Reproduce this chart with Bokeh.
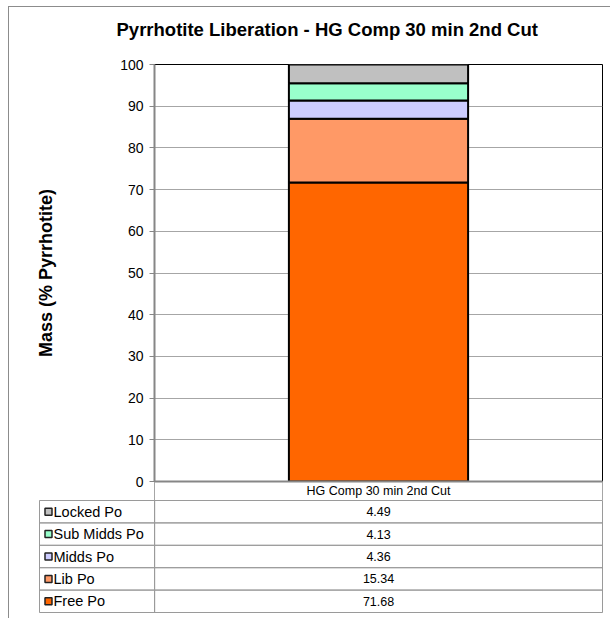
from bokeh.plotting import figure
from bokeh.models import Range1d, FactorRange, FixedTicker, ColumnDataSource, Title
from bokeh.layouts import column, row
from bokeh.core.properties import value
from bokeh.embed import file_html
from bokeh.resources import INLINE

# ---------------- data ----------------
title_text = "Pyrrhotite Liberation - HG Comp 30 min 2nd Cut"
y_label = "Mass (% Pyrrhotite)"
categories = ["HG Comp 30 min 2nd Cut"]
series = ["Free Po", "Lib Po", "Midds Po", "Sub Midds Po", "Locked Po"]
free_po = [71.68]
lib_po = [15.34]
midds_po = [4.36]
sub_midds_po = [4.13]
locked_po = [4.49]
colors = ["#FF6600", "#FF9966", "#CCCCFF", "#99FFCC", "#C0C0C0"]
y_ticks = [0, 10, 20, 30, 40, 50, 60, 70, 80, 90, 100]

# ---------------- styling / layout constants ----------------
FONT = "Liberation Sans"
GRID = "#a6a6a6"
AXIS = "#868686"
LEFT_COL = 0.257      # legend column width, in category units

values_by_series = [free_po, lib_po, midds_po, sub_midds_po, locked_po]
n_cat = len(categories)
cat_x = [i + 0.5 for i in range(n_cat)]

src = dict(x=cat_x)
for name, vals in zip(series, values_by_series):
    src[name] = vals
source = ColumnDataSource(src)

# ---------------- main chart ----------------
p = figure(width=601, height=493, output_backend="svg", toolbar_location=None, tools="",
           x_range=Range1d(0, n_cat), y_range=Range1d(y_ticks[0], y_ticks[-1]),
           min_border_left=145, min_border_right=8, min_border_top=57, min_border_bottom=19)
p.background_fill_color = "white"
p.border_fill_color = "white"
p.outline_line_color = "black"
p.outline_line_width = 1

p.vbar_stack(series, x="x", width=0.4, color=colors, line_color="black",
             line_width=2, source=source)

# spacer between plot area and title
p.add_layout(Title(text=" ", text_font_size="12px", standoff=4), "above")
t = Title(text=title_text, align="left", offset=-38, standoff=10,
          text_font=FONT, text_font_size="18.5px", text_font_style="bold", text_color="black")
p.add_layout(t, "above")

ytick = FixedTicker(ticks=y_ticks)
p.yaxis.ticker = ytick
p.ygrid.ticker = ytick
p.ygrid.grid_line_color = GRID
p.xgrid.grid_line_color = None
p.yaxis.axis_line_color = AXIS
p.yaxis.axis_line_width = 2
p.yaxis.major_tick_line_color = AXIS
p.yaxis.major_tick_out = 5
p.yaxis.major_tick_in = 0
p.yaxis.minor_tick_line_color = None
p.yaxis.major_label_text_font = FONT
p.yaxis.major_label_text_font_size = "14px"
p.yaxis.major_label_text_color = "black"
p.yaxis.major_label_standoff = 6
p.yaxis.axis_label = y_label
p.yaxis.axis_label_text_font = FONT
p.yaxis.axis_label_text_font_size = "18px"
p.yaxis.axis_label_text_font_style = "bold"
p.yaxis.axis_label_text_color = "black"
p.yaxis.axis_label_standoff = 61

xt = FixedTicker(ticks=cat_x, minor_ticks=list(range(n_cat + 1)))
p.xaxis.ticker = xt
p.xaxis.major_label_overrides = {x: c for x, c in zip(cat_x, categories)}
p.xaxis.axis_line_color = AXIS
p.xaxis.axis_line_width = 2
p.xaxis.major_tick_line_color = None
p.xaxis.major_tick_out = 0
p.xaxis.major_tick_in = 0
p.xaxis.minor_tick_line_color = GRID
p.xaxis.minor_tick_out = 19
p.xaxis.minor_tick_in = 0
p.xaxis.major_label_standoff = -17
p.xaxis.major_label_text_font = FONT
p.xaxis.major_label_text_font_size = "12.5px"
p.xaxis.major_label_text_color = "black"

# ---------------- data table ----------------
rows = dict(
    name=series,
    color=colors,
    label=[f"{v[0]:.2f}" for v in values_by_series],
    x=[cat_x[0]] * len(series),
    lx=[-LEFT_COL / 2] * len(series),
    sx=[-LEFT_COL + 9 / 448] * len(series),
    tx=[-LEFT_COL] * len(series),
)
tsrc = ColumnDataSource(rows)

tb = figure(width=601, height=118, output_backend="svg", toolbar_location=None, tools="",
            x_range=Range1d(-LEFT_COL, n_cat), y_range=FactorRange(factors=series, range_padding=0),
            min_border_left=30, min_border_right=8, min_border_top=0, min_border_bottom=6)
tb.axis.visible = False
tb.grid.grid_line_color = None
tb.outline_line_color = "#9a9a9a"
tb.border_fill_color = "white"

tb.rect(x="lx", y="name", width=LEFT_COL, height=1, fill_alpha=0, line_color="#9a9a9a",
        line_width=1, source=tsrc)
tb.rect(x="x", y="name", width=1, height=1, fill_alpha=0, line_color="#9a9a9a",
        line_width=1, source=tsrc)
tb.scatter(x="sx", y="name", marker="square", size=7, fill_color="color",
           line_color="#222222", line_width=1.5, source=tsrc)
tb.text(x="tx", y="name", text="name", x_offset=14, text_align="left", text_baseline="middle",
        text_font=value(FONT), text_font_size="14.5px", text_color="black", source=tsrc)
tb.text(x="x", y="name", text="label", text_align="center", text_baseline="middle",
        text_font=value(FONT), text_font_size="12.5px", text_color="black", source=tsrc)

layout = column(p, row(tb), styles={"border-left": "1px solid #8c8c8c",
                                    "border-top": "1px solid #8c8c8c",
                                    "margin-left": "8px", "margin-top": "6px"})

open("out.html", "w").write(file_html(layout, INLINE))
